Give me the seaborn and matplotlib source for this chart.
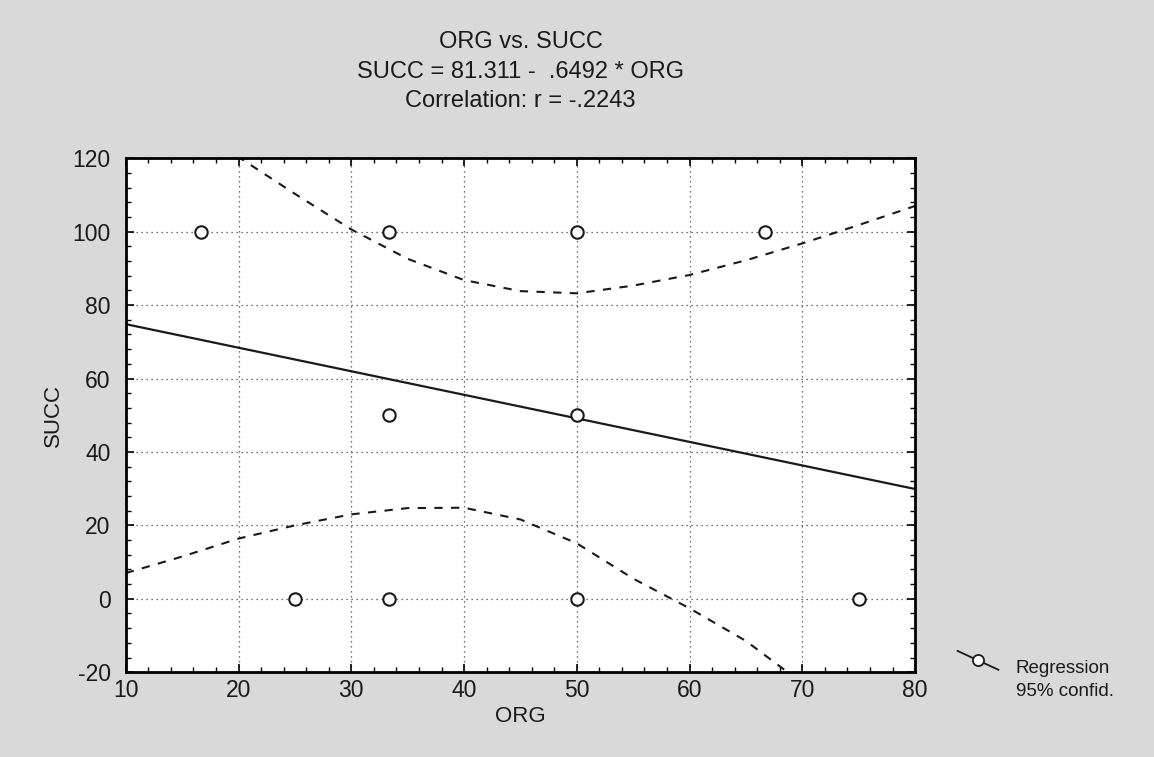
import matplotlib
matplotlib.use("Agg")
import matplotlib.pyplot as plt
from matplotlib.lines import Line2D
from matplotlib.legend_handler import HandlerLine2D
from matplotlib.ticker import MultipleLocator
import seaborn as sns
import pandas as pd

# observed cases
org = [16.67, 33.33, 50.0, 66.67, 33.33, 50.0, 25.0, 33.33, 50.0, 75.0]
succ = [100, 100, 100, 100, 50, 50, 0, 0, 0, 0]

# fitted line (end points)
reg_x = [10, 80]
reg_y = [74.8, 29.9]

# 95% confidence bands
upper_x = [15, 20, 25, 30, 35, 40, 45, 50, 55, 60, 65, 70, 75, 80]
upper_y = [131, 120.3, 110.3, 100.6, 92.6, 86.8, 83.8, 83.2, 85.3, 88.2, 92.2, 96.8, 101.8, 107]
lower_x = [10, 15, 20, 25, 30, 35, 40, 45, 50, 55, 60, 65, 70]
lower_y = [7, 11.5, 16.4, 20, 23, 24.7, 24.8, 21.6, 15.1, 5.5, -2.6, -11.5, -23]

pts = pd.DataFrame({'ORG': org, 'SUCC': succ})
reg = pd.DataFrame({'ORG': reg_x, 'SUCC': reg_y})
upper = pd.DataFrame({'ORG': upper_x, 'SUCC': upper_y})
lower = pd.DataFrame({'ORG': lower_x, 'SUCC': lower_y})

ink = '#1a1a1a'


class SlantedHandler(HandlerLine2D):
    """Legend glyph: a short falling line with a circle, level with the first text line."""

    def create_artists(self, legend, orig_handle, xdescent, ydescent,
                       width, height, fontsize, trans):
        x0, x1 = -xdescent, -xdescent + width
        y0, y1 = height * 2.7, height * 1.25
        line = Line2D([x0, x1], [y0, y1], color=ink, linewidth=1.3)
        mark = Line2D([(x0 + x1) / 2], [(y0 + y1) / 2], linestyle='none',
                      marker='o', markersize=8, markerfacecolor='white',
                      markeredgecolor=ink, markeredgewidth=1.3)
        line.set_transform(trans)
        mark.set_transform(trans)
        return [line, mark]


sns.set_style("white")
plt.rcParams['font.family'] = ['Liberation Sans', 'DejaVu Sans']
plt.rcParams['text.color'] = ink
plt.rcParams['axes.labelcolor'] = ink
plt.rcParams['xtick.color'] = ink
plt.rcParams['ytick.color'] = ink
plt.rcParams['axes.unicode_minus'] = False

bg = '#d9d9d9'
fig = plt.figure(figsize=(11.54, 7.57), dpi=100, facecolor=bg)
ax = fig.add_axes([0.109, 0.112, 0.684, 0.679])
ax.set_facecolor('white')

ax.grid(True, which='major', color='#444444', linestyle=(0, (1, 3)), linewidth=0.9)

sns.lineplot(data=reg, x='ORG', y='SUCC', ax=ax, color=ink, linewidth=1.6)
for band in (upper, lower):
    sns.lineplot(data=band, x='ORG', y='SUCC', ax=ax, color=ink,
                 linewidth=1.5, linestyle=(0, (4, 4)))
sns.scatterplot(data=pts, x='ORG', y='SUCC', ax=ax, s=80, facecolor='white',
                edgecolor=ink, linewidth=1.5, zorder=5)

ax.set_xlim(10, 80)
ax.set_ylim(-20, 120)
ax.xaxis.set_major_locator(MultipleLocator(10))
ax.xaxis.set_minor_locator(MultipleLocator(2))
ax.yaxis.set_major_locator(MultipleLocator(20))
ax.yaxis.set_minor_locator(MultipleLocator(4))
ax.tick_params(which='both', direction='in', top=True, right=True,
               bottom=True, left=True, color='black')
ax.tick_params(which='major', length=6, width=1.2, labelsize=16.5)
ax.tick_params(axis='y', which='major', pad=11)
ax.tick_params(axis='x', which='major', pad=5)
ax.tick_params(which='minor', length=3.5, width=1.0)
for side in ax.spines.values():
    side.set_linewidth(2)
    side.set_color('black')

ax.set_xlabel('ORG', fontsize=16, labelpad=3)
ax.set_ylabel('SUCC', fontsize=16, labelpad=6)

cx = 0.109 + 0.684 / 2
fig.text(cx, 0.944, 'ORG vs. SUCC', ha='center', va='center', fontsize=17)
fig.text(cx, 0.905, 'SUCC = 81.311 -  .6492 * ORG', ha='center', va='center', fontsize=17)
fig.text(cx, 0.866, 'Correlation: r = -.2243', ha='center', va='center', fontsize=17)

handle = Line2D([], [], color=ink)
leg = fig.legend([handle], ['Regression\n95% confid.'], loc='center left',
                 bbox_to_anchor=(0.815, 0.102), frameon=False, fontsize=13.5,
                 handlelength=2.2, handletextpad=0.9,
                 handler_map={Line2D: SlantedHandler()})
for t in leg.get_texts():
    t.set_linespacing(1.45)
    t.set_multialignment('left')

fig.savefig('out.png', dpi=100, facecolor=bg)
